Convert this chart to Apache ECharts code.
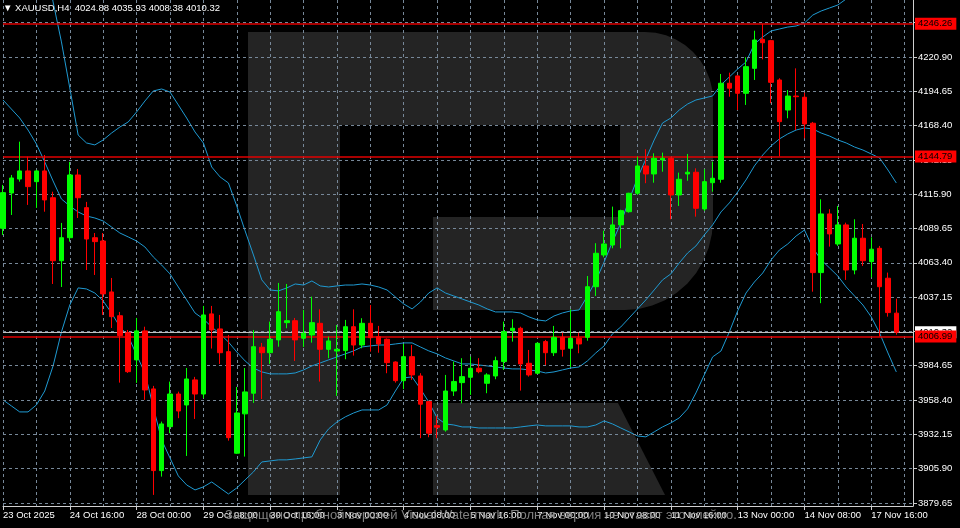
<!DOCTYPE html>
<html>
<head>
<meta charset="utf-8">
<script src="https://cdn.jsdelivr.net/npm/echarts@6/dist/echarts.min.js"></script>
<style>html,body{margin:0;padding:0;background:#000;}#c{width:960px;height:528px;}</style>
</head>
<body>
<div id="c"></div>
<script>
// ---------- DATA ----------
const symbolName = 'XAUUSD,H4';
const tradingDays = ['2025-10-23','2025-10-24','2025-10-27','2025-10-28','2025-10-29','2025-10-30','2025-10-31',
  '2025-11-03','2025-11-04','2025-11-05','2025-11-06','2025-11-07','2025-11-10','2025-11-11','2025-11-12',
  '2025-11-13','2025-11-14','2025-11-17','2025-11-18'];
const barHours = ['00:00','04:00','08:00','12:00','16:00','20:00'];
const firstBarTime = '2025-10-23 08:00';
const lastSlotTime = '2025-11-18 12:00';

const opens = [4089.8,4116.8,4127.5,4133.7,4125.5,4133.7,4113.2,4065.0,4082.6,4130.6,
  4105.6,4082.6,4080.1,4041.1,4022.9,4009.9,3989.1,4011.3,3966.9,3904.4,
  3938.0,3963.0,3954.6,3973.8,3963.0,4024.3,4012.8,3995.4,3917.7,3947.8,
  3963.6,3998.8,3994.6,4004.4,4017.6,4019.1,4005.7,4008.2,4017.1,3997.2,
  3995.9,3996.2,4014.5,4000.5,4017.1,4006.9,4004.9,3987.5,3973.2,3991.6,
  3976.8,3957.2,3938.8,3935.5,3965.3,3971.7,3975.8,3982.7,3971.2,3976.8,
  3987.8,4011.5,4013.3,3986.5,3978.9,4003.1,3994.6,4006.4,3998.0,4005.7,
  4006.4,4045.1,4069.4,4077.0,4092.4,4102.5,4116.6,4137.5,4131.4,4142.1,
  4143.4,4115.3,4131.4,4132.7,4104.6,4124.7,4127.3,4200.8,4206.4,4193.1,
  4212.2,4234.4,4233.4,4203.3,4180.3,4191.0,4190.1,4170.2,4055.9,4100.8,
  4077.8,4092.4,4057.9,4082.2,4064.3,4074.5,4051.6,4024.88];
const highs = [4123.0,4130.6,4156.1,4144.6,4134.5,4145.9,4117.8,4093.9,4140.6,4135.2,
  4110.0,4086.2,4086.2,4051.8,4025.8,4012.0,4021.2,4014.5,3969.2,3941.9,
  3972.5,3964.8,3982.9,3976.1,4030.4,4030.4,4023.5,4008.2,3968.4,3982.9,
  4012.0,4002.1,4018.4,4048.0,4047.2,4021.2,4027.3,4037.5,4027.8,4006.9,
  4015.8,4019.7,4027.8,4021.0,4031.1,4015.1,4005.5,3988.0,4001.3,4000.5,
  3978.9,3957.8,3946.2,3977.6,3987.8,3990.4,3991.6,3990.4,3978.9,3991.6,
  4018.4,4020.2,4014.5,3996.7,4002.5,4004.4,4015.1,4009.9,4027.8,4009.9,
  4053.3,4078.4,4088.0,4106.4,4104.0,4117.0,4144.6,4150.3,4147.2,4147.7,
  4144.0,4132.4,4146.7,4135.7,4135.0,4140.8,4207.9,4208.9,4207.0,4220.7,
  4241.0,4246.26,4234.0,4204.6,4195.6,4212.2,4193.6,4171.2,4112.0,4104.4,
  4106.9,4094.1,4096.7,4093.1,4082.9,4076.3,4055.9,4035.93];
const lows = [4084.7,4100.0,4125.5,4107.7,4105.4,4102.5,4047.2,4044.9,4079.6,4097.7,
  4057.9,4054.1,4023.5,4013.5,3971.7,3979.1,3971.5,3958.5,3885.8,3899.8,
  3933.0,3944.5,3915.6,3943.9,3959.8,3997.8,3986.0,3927.3,3917.2,3915.1,
  3956.2,3959.2,3986.0,3999.2,4013.3,3988.3,3999.0,4002.3,3972.5,3990.4,
  3961.5,3989.6,3992.4,3998.0,3995.4,3994.6,3978.9,3971.7,3966.7,3973.8,
  3929.2,3929.9,3929.2,3934.2,3961.5,3955.9,3962.3,3978.9,3963.6,3974.3,
  3981.4,4003.1,3965.6,3976.3,3978.5,3985.2,3992.1,3991.6,3983.5,3994.2,
  4003.8,4038.0,4067.6,4074.5,4074.5,4101.8,4115.3,4124.3,4124.7,4133.1,
  4096.7,4106.9,4126.2,4098.7,4103.1,4117.8,4124.7,4190.5,4180.3,4184.2,
  4203.3,4219.1,4185.5,4144.8,4174.0,4165.0,4158.7,4041.3,4032.5,4075.8,
  4076.3,4050.3,4054.6,4061.0,4052.3,4006.99,4022.2,4008.38];
const closes = [4117.1,4128.3,4133.7,4121.7,4133.7,4111.5,4065.0,4082.6,4130.6,4113.2,
  4081.6,4079.6,4039.6,4022.2,4007.7,3980.1,4011.3,3966.1,3904.4,3940.1,
  3963.0,3950.0,3974.5,3963.0,4023.5,4012.0,3994.6,3929.6,3948.5,3964.6,
  3999.2,3994.6,4004.9,4026.0,4019.1,4004.4,4009.5,4017.6,3997.2,4003.6,
  3997.2,4014.5,4000.5,4017.1,4006.1,4001.3,3987.0,3973.2,3991.6,3977.6,
  3955.2,3933.0,3937.6,3965.3,3972.5,3976.3,3982.7,3980.1,3977.6,3988.5,
  4010.7,4013.3,3986.0,3977.6,4001.8,3994.6,4006.4,3997.2,4005.7,4001.3,
  4045.1,4070.7,4077.8,4092.4,4103.3,4116.6,4137.5,4131.4,4143.4,4143.4,
  4115.3,4127.3,4132.7,4105.1,4125.5,4128.1,4200.8,4197.0,4193.1,4213.5,
  4233.9,4231.8,4201.5,4171.4,4191.0,4190.5,4169.6,4055.9,4100.8,4085.5,
  4092.4,4057.9,4082.2,4065.0,4073.8,4045.1,4025.3,4010.32];

// Bollinger bands
const bbUpper = [null,null,null,null,null,4300.5,4263.0,4232.4,4197.2,4161.2,
  4155.1,4153.6,4157.4,4162.7,4167.3,4171.2,4178.8,4187.2,4194.9,4196.4,
  4194.1,4184.2,4174.2,4163.5,4155.1,4136.7,4129.1,4124.5,4106.9,4087.8,
  4069.4,4050.3,4042.6,4041.9,4044.2,4047.2,4046.4,4049.5,4045.7,4044.9,
  4045.7,4046.4,4046.4,4047.2,4046.4,4044.9,4042.6,4037.3,4031.9,4028.1,
  4033.4,4040.3,4044.2,4040.3,4038.0,4035.7,4033.4,4031.1,4028.1,4025.8,
  4025.8,4025.8,4025.0,4022.0,4019.7,4018.9,4022.7,4025.0,4026.6,4027.3,
  4038.0,4049.5,4064.0,4079.3,4093.9,4111.5,4128.3,4142.8,4157.4,4170.4,
  4174.2,4180.3,4184.9,4188.0,4189.5,4191.1,4199.5,4205.6,4211.7,4217.1,
  4230.8,4236.2,4240.8,4242.3,4243.8,4244.6,4246.9,4253.0,4256.1,4258.4,
  4260.7,4265.3,4268.3];
const bbMiddle = [4188.0,4181.1,4174.2,4165.0,4154.3,4140.6,4126.0,4112.2,4106.9,4102.3,
  4099.2,4097.7,4095.4,4090.8,4086.2,4083.2,4080.1,4075.5,4067.9,4061.7,
  4054.9,4044.9,4035.0,4025.0,4020.4,4014.3,4009.0,4002.8,3995.2,3988.3,
  3982.9,3979.9,3978.4,3978.4,3978.4,3979.1,3981.4,3984.5,3986.8,3989.1,
  3991.4,3993.7,3996.0,3999.0,3999.8,4000.5,4000.5,4001.3,4002.1,4002.1,
  3999.0,3996.0,3993.7,3990.6,3988.3,3986.0,3986.0,3985.2,3984.5,3983.7,
  3982.9,3982.2,3982.2,3981.4,3980.6,3979.1,3979.9,3981.4,3982.9,3983.7,
  3988.3,3994.4,3999.8,4009.0,4014.3,4021.2,4028.1,4035.0,4042.6,4050.3,
  4054.9,4063.3,4070.9,4076.3,4084.7,4092.4,4102.3,4109.2,4117.6,4126.8,
  4137.5,4145.9,4152.8,4158.2,4162.0,4165.0,4166.6,4165.8,4162.7,4160.4,
  4157.4,4155.1,4152.0,4149.7,4146.7,4143.6,4134.4,4124.5];
const bbLower = [3958.5,3953.9,3949.3,3949.3,3954.6,3965.3,3984.5,4010.5,4031.1,4044.2,
  4043.4,4040.3,4034.2,4025.0,4014.5,4007.4,3992.9,3979.1,3953.1,3927.9,
  3914.1,3900.3,3893.4,3889.6,3891.9,3895.7,3891.1,3886.5,3891.1,3897.3,
  3903.4,3911.0,3911.8,3912.6,3912.6,3913.3,3914.1,3914.9,3927.9,3936.3,
  3941.6,3945.5,3948.5,3950.8,3950.8,3950.8,3954.6,3965.3,3975.3,3976.1,
  3966.9,3956.9,3944.7,3940.1,3939.3,3937.8,3937.8,3937.0,3937.0,3937.0,
  3937.0,3937.0,3937.8,3938.6,3939.3,3938.6,3938.6,3938.6,3938.6,3937.8,
  3937.8,3939.3,3942.4,3940.1,3937.0,3934.0,3930.9,3930.2,3934.0,3937.8,
  3940.9,3944.7,3951.6,3963.8,3977.6,3991.4,3995.9,4010.5,4026.6,4040.3,
  4048.7,4055.6,4065.6,4073.2,4077.8,4083.9,4088.5,4074.8,4065.6,4059.5,
  4053.3,4044.9,4038.0,4031.1,4022.0,4009.7,3994.4,3979.9];

const priceTicks = [3879.65,3905.90,3932.15,3958.40,3984.65,4010.90,4037.15,4063.40,4089.65,
  4115.90,4142.15,4168.40,4194.65,4220.90,4247.15];
const levelLines = [4246.26, 4144.79, 4006.99];
const bidPrice = 4010.32;
const watermarkText = 'Защищено пробной версией Visual Watermark. Полная версия не ставит это клеймо.';

// ---------- BUILD ----------
const categories = [];
tradingDays.forEach(d => barHours.forEach(h => {
  const t = d + ' ' + h;
  if (t >= firstBarTime && t <= lastSlotTime) categories.push(t);
}));
const monthNames = ['Jan','Feb','Mar','Apr','May','Jun','Jul','Aug','Sep','Oct','Nov','Dec'];
function fmtCat(s, idx) {
  const parts = s.split(' ');
  const dd = parts[0].split('-');
  const label = parseInt(dd[2], 10) + ' ' + monthNames[parseInt(dd[1], 10) - 1];
  return idx === 0 ? label + ' ' + dd[0] : label + ' ' + parts[1];
}
const ohlc = opens.map((o, i) => [o, closes[i], lows[i], highs[i]]);
const last = opens.length - 1;
const header = '▼ ' + symbolName + '  ' + opens[last].toFixed(2) + ' ' + highs[last].toFixed(2) + ' ' +
  lows[last].toFixed(2) + ' ' + closes[last].toFixed(2);

// watermark "R" outline (decoration, pixel space)
function arcPts(cx, cy, rx, ry, a0, a1, n) {
  const p = [];
  for (let i = 0; i <= n; i++) {
    const a = a0 + (a1 - a0) * i / n;
    p.push([cx + rx * Math.cos(a), cy + ry * Math.sin(a)]);
  }
  return p;
}
const bowlPts = [[340, 32], [645, 32]]
  .concat(arcPts(645, 100, 68, 68, -Math.PI / 2, 0, 10))
  .concat([[713, 220]])
  .concat(arcPts(625, 220, 88, 90, 0, Math.PI / 2, 10))
  .concat([[433, 310], [433, 217], [620, 217], [620, 125], [340, 125]]);

const FONT = 'Liberation Sans';
const FS = 9.5;
const bandColor = '#1f9ad2';
const WM = '#242424';

const chart = echarts.init(document.getElementById('c'), null, {renderer: 'canvas'});
chart.setOption({
  backgroundColor: '#000000',
  animation: false,
  title: {
    text: header, left: 3, top: 3, padding: 0,
    textStyle: {color: '#ffffff', fontSize: FS, fontWeight: 'normal', fontFamily: FONT}
  },
  graphic: [
    {type: 'rect', z: -10, silent: true, shape: {x: 248, y: 32, width: 92, height: 463}, style: {fill: WM}},
    {type: 'polygon', z: -10, silent: true, shape: {points: bowlPts}, style: {fill: WM}},
    {type: 'polygon', z: -10, silent: true, shape: {points: [[433,403],[618,403],[665,495],[433,495]]}, style: {fill: WM}},
    {type: 'text', z: 50, silent: true, x: 225, y: 509,
     style: {text: watermarkText, fill: 'rgba(150,150,150,0.85)', fontSize: 13, fontFamily: FONT}}
  ],
  grid: {left: 1, right: 47, top: 0, bottom: 22, containLabel: false},
  xAxis: {
    type: 'category', data: categories, boundaryGap: false,
    axisLine: {show: true, lineStyle: {color: '#cfcfcf', width: 1}},
    axisTick: {show: true, length: 4, interval: (i) => i % 8 === 0, lineStyle: {color: '#cfcfcf'}},
    axisLabel: {
      interval: (i) => i % 8 === 0, align: 'left', margin: 4,
      color: '#ffffff', fontSize: FS, fontFamily: FONT,
      formatter: (v, i) => fmtCat(v, i)
    },
    splitLine: {show: true, interval: (i) => i % 4 === 0, lineStyle: {color: '#778899', type: [3, 3], width: 1}}
  },
  yAxis: {
    type: 'value', position: 'right', min: 3877.3, max: 4264.5, scale: true,
    axisLine: {show: true, lineStyle: {color: '#cfcfcf', width: 1}},
    axisTick: {show: true, length: 4, customValues: priceTicks, lineStyle: {color: '#cfcfcf'}},
    axisLabel: {customValues: priceTicks, color: '#ffffff', fontSize: FS, fontFamily: FONT, margin: 5,
      formatter: (v) => Number(v).toFixed(2)},
    splitLine: {show: false}
  },
  series: [
    {
      name: 'grid', type: 'line', data: [], silent: true, z: 1,
      markLine: {
        silent: true, symbol: ['none', 'none'], animation: false,
        label: {show: false},
        lineStyle: {color: '#778899', type: [3, 3], width: 1},
        data: priceTicks.map(v => ({yAxis: v}))
      }
    },
    {name: 'BB upper', type: 'line', data: bbUpper, showSymbol: false, symbol: 'none', clip: true,
     lineStyle: {color: bandColor, width: 1}, z: 3},
    {name: 'BB middle', type: 'line', data: bbMiddle, showSymbol: false, symbol: 'none', clip: true,
     lineStyle: {color: bandColor, width: 1}, z: 3},
    {name: 'BB lower', type: 'line', data: bbLower, showSymbol: false, symbol: 'none', clip: true,
     lineStyle: {color: bandColor, width: 1}, z: 3},
    {
      name: 'bid', type: 'line', data: [], silent: true, z: 4,
      markLine: {
        silent: true, symbol: ['none', 'none'], animation: false,
        lineStyle: {color: '#c0c0c0', type: 'solid', width: 1},
        label: {show: true, position: 'end', distance: 2, formatter: (p) => Number(p.value).toFixed(2),
          backgroundColor: '#ffffff', color: '#000000', fontSize: FS, fontFamily: FONT, padding: [1, 4, 1, 3]},
        data: [{yAxis: bidPrice}]
      }
    },
    {
      name: 'levels', type: 'line', data: [], silent: true, z: 5,
      markLine: {
        silent: true, symbol: ['none', 'none'], animation: false,
        lineStyle: {color: '#e00000', type: 'solid', width: 1.5},
        label: {show: true, position: 'end', distance: 2, formatter: (p) => Number(p.value).toFixed(2),
          backgroundColor: '#ff0000', color: '#000000', fontSize: FS, fontFamily: FONT, padding: [1, 4, 1, 3]},
        data: levelLines.map(v => ({yAxis: v}))
      }
    },
    {
      name: symbolName, type: 'candlestick', data: ohlc, barWidth: 5, clip: true, z: 6,
      itemStyle: {color: '#00ff00', color0: '#ff0000', borderColor: '#00ff00', borderColor0: '#ff0000', borderWidth: 1}
    }
  ]
});
</script>
</body>
</html>
